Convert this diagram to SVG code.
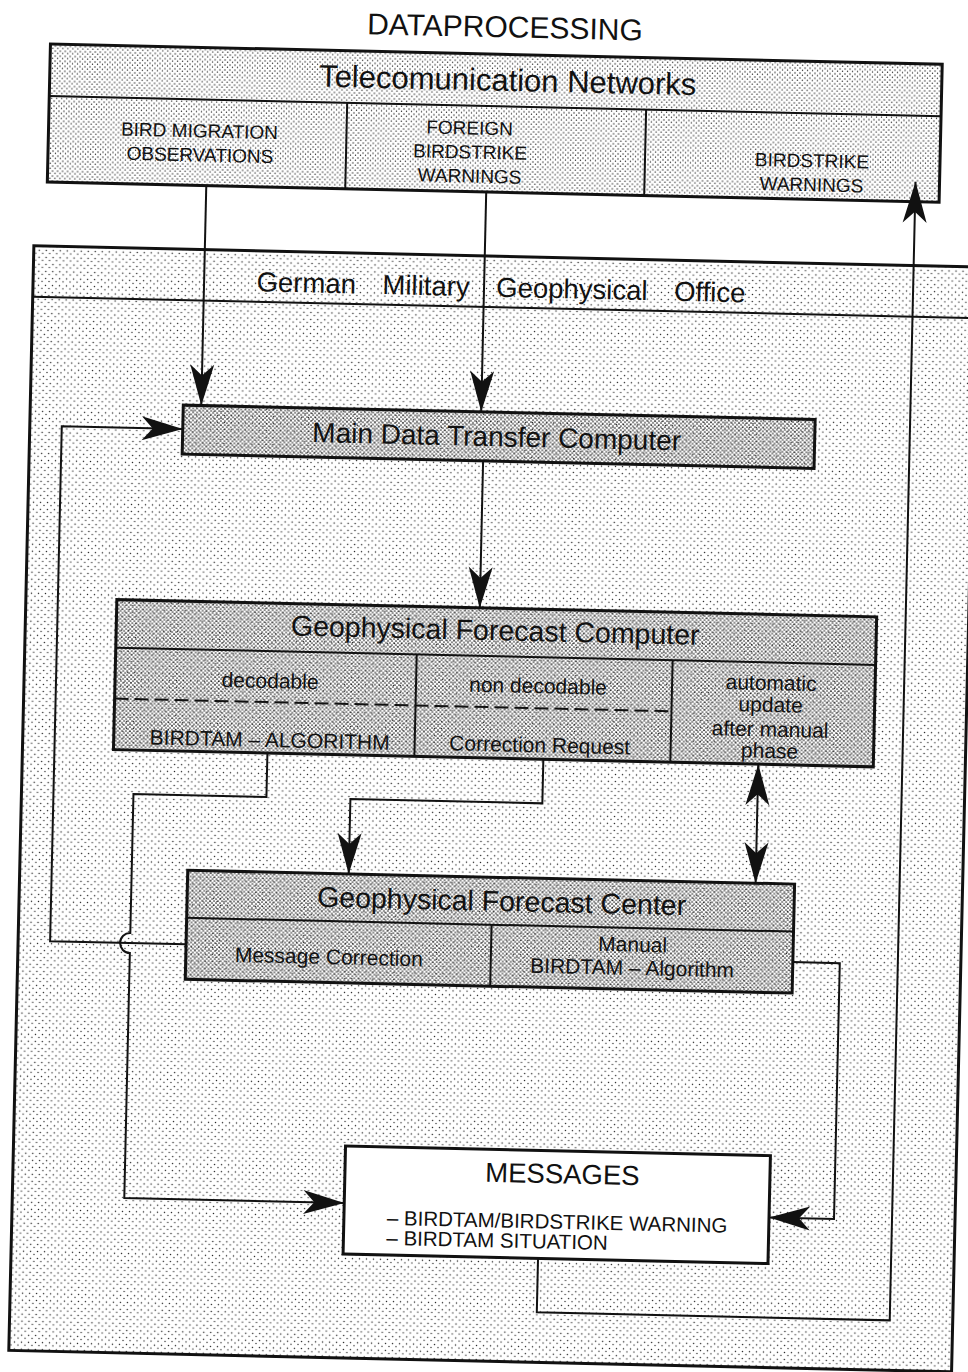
<svg xmlns="http://www.w3.org/2000/svg" width="968" height="1372" viewBox="0 0 968 1372">
<defs>
<pattern id="dotsA" width="7" height="7" patternUnits="userSpaceOnUse"><circle cx="1.5" cy="1.5" r="0.75" fill="#222"/><circle cx="5" cy="4.5" r="0.7" fill="#222"/></pattern>
<pattern id="dotsB" width="5" height="5" patternUnits="userSpaceOnUse"><circle cx="1" cy="1" r="0.75" fill="#222"/><circle cx="3.5" cy="3.2" r="0.7" fill="#222"/></pattern>
<pattern id="dotsC" width="4" height="4" patternUnits="userSpaceOnUse"><circle cx="1" cy="1" r="0.85" fill="#222"/><circle cx="3" cy="3" r="0.85" fill="#222"/></pattern>
<marker id="ah" viewBox="-43 -13 44 26" refX="0" refY="0" markerWidth="44" markerHeight="26" markerUnits="userSpaceOnUse" orient="auto-start-reverse"><path d="M0,0 L-41,-12 L-30,0 L-41,12 Z" fill="#111"/></marker>
</defs>
<style>
.t{font-family:"Liberation Sans",Arial,sans-serif;fill:#111;text-anchor:middle}
.box{stroke:#111;stroke-width:3}
.div{stroke:#111;stroke-width:2;fill:none}
.con{stroke:#111;stroke-width:2;fill:none}
.cap{font-size:19px}
.sm{font-size:21px}
</style>
<rect x="0" y="0" width="968" height="1372" fill="#fff"/>
<g transform="rotate(1.3 484 686)">
<g id="title"><text class="t" x="490" y="37" font-size="30">DATAPROCESSING</text></g>
<g id="telecom">
<rect class="box" x="36" y="54" width="892" height="138" fill="url(#dotsB)" stroke-width="2.5"/>
<line class="div" x1="36" y1="106" x2="928" y2="106" stroke-width="2.5"/>
<line class="div" x1="334" y1="106" x2="334" y2="192"/>
<line class="div" x1="633" y1="106" x2="633" y2="192"/>
<text class="t" x="494" y="90.5" font-size="31">Telecomunication Networks</text>
<text class="t cap" x="187" y="144">BIRD MIGRATION</text>
<text class="t cap" x="188" y="168">OBSERVATIONS</text>
<text class="t cap" x="457" y="135">FOREIGN</text>
<text class="t cap" x="458" y="159">BIRDSTRIKE</text>
<text class="t cap" x="458" y="183">WARNINGS</text>
<text class="t cap" x="800" y="160">BIRDSTRIKE</text>
<text class="t cap" x="800" y="184">WARNINGS</text>
</g>
<g id="gmgo">
<rect class="box" x="24" y="256" width="943" height="1105" fill="url(#dotsA)"/>
<line class="div" x1="24" y1="307" x2="967" y2="307" stroke-width="3"/>
<text class="t" x="492" y="296.5" font-size="27.5" word-spacing="19">German Military Geophysical Office</text>
</g>
<g id="mdtc">
<rect class="box" x="177" y="412" width="632" height="49" fill="url(#dotsC)" stroke-width="2.5"/>
<text class="t" x="491" y="446" font-size="28">Main Data Transfer Computer</text>
</g>
<g id="gfcomp">
<rect class="box" x="115" y="608" width="760" height="150" fill="url(#dotsC)"/>
<line class="div" x1="115" y1="656" x2="875" y2="656" stroke-width="2.5"/>
<line class="div" x1="416" y1="656" x2="416" y2="758"/>
<line class="div" x1="672" y1="656" x2="672" y2="758"/>
<line class="div" x1="115" y1="707" x2="672" y2="707" stroke-dasharray="14 6"/>
<text class="t" x="494" y="640" font-size="28.5">Geophysical Forecast Computer</text>
<text class="t sm" x="270" y="693">decodable</text>
<text class="t sm" x="538" y="692">non decodable</text>
<text class="t sm" x="771" y="683.5">automatic</text>
<text class="t sm" x="771" y="705.5">update</text>
<text class="t sm" x="771" y="730">after manual</text>
<text class="t sm" x="771" y="751.5">phase</text>
<text class="t sm" x="271" y="752">BIRDTAM – ALGORITHM</text>
<text class="t sm" x="541" y="751">Correction Request</text>
</g>
<g id="gfcenter">
<rect class="box" x="192" y="877" width="607" height="109" fill="url(#dotsC)"/>
<line class="div" x1="192" y1="924.5" x2="799" y2="924.5" stroke-width="2.5"/>
<line class="div" x1="497" y1="924.5" x2="497" y2="986"/>
<text class="t" x="506.5" y="910.6" font-size="28.5">Geophysical Forecast Center</text>
<text class="t sm" x="335" y="967.5">Message Correction</text>
<text class="t sm" x="638.5" y="948.3">Manual</text>
<text class="t sm" x="638.5" y="971.6">BIRDTAM – Algorithm</text>
</g>
<g id="messages">
<rect class="box" x="356" y="1149" width="425" height="108" fill="#fff" stroke-width="2.5"/>
<text class="t" x="573.5" y="1181.5" font-size="27.5">MESSAGES</text>
<text class="t" x="399" y="1227" font-size="20.5" style="text-anchor:start">– BIRDTAM/BIRDSTRIKE WARNING</text>
<text class="t" x="399" y="1247" font-size="20.5" style="text-anchor:start">– BIRDTAM SITUATION</text>
</g>
<g id="connectors">
<path class="con" d="M195,192 V412" marker-end="url(#ah)"/>
<path class="con" d="M475,192 V412" marker-end="url(#ah)"/>
<path class="con" d="M478,461 V608" marker-end="url(#ah)"/>
<path class="con" d="M192,951 H56 V436 H177" marker-end="url(#ah)"/>
<path class="con" d="M269,758 V802 H136 V941 A10,10 0 0 0 136,961 V1206 H356" marker-end="url(#ah)"/>
<path class="con" d="M545,758 V802 H353 V877" marker-end="url(#ah)"/>
<path class="con" d="M760,758 V877" marker-start="url(#ah)" marker-end="url(#ah)"/>
<path class="con" d="M799,955 H846 V1211 H781" marker-end="url(#ah)"/>
<path class="con" d="M551,1257 V1311 H904 V172" marker-end="url(#ah)"/>
</g>
</g>
</svg>
